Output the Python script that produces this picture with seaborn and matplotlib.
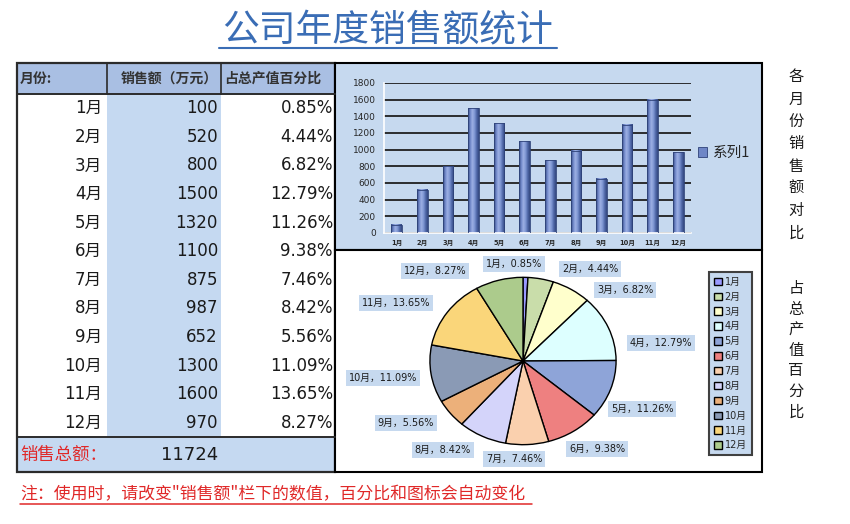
import matplotlib
matplotlib.use("Agg")
import numpy as np
import pandas as pd
import matplotlib.pyplot as plt
import seaborn as sns
from matplotlib.patches import Rectangle, Patch
from matplotlib.colors import LinearSegmentedColormap

# ---------------- data ----------------
months = ["1月", "2月", "3月", "4月", "5月", "6月", "7月", "8月", "9月", "10月", "11月", "12月"]
sales = [100, 520, 800, 1500, 1320, 1100, 875, 987, 652, 1300, 1600, 970]
y_ticks = [0, 200, 400, 600, 800, 1000, 1200, 1400, 1600, 1800]
series_name = "系列1"
title_text = "公司年度销售额统计"
header = ["月份:", "销售额（万元）", "占总产值百分比"]
total_label = "销售总额："
note_text = "注：使用时，请改变\"销售额\"栏下的数值，百分比和图标会自动变化"
side_text_1 = "各月份销售额对比"
side_text_2 = "占总产值百分比"

total = sum(sales)
pcts = [v / total * 100 for v in sales]

# ---------------- style ----------------
pie_colors = ["#9999FF", "#C9DDAA", "#FFFFCC", "#DDFFFF", "#8EA4D8", "#EE8080",
              "#FAD0AE", "#D4D4FA", "#ECB07A", "#8A9AB5", "#FAD67A", "#ACCB8C"]
HEADER_BG = "#A9BFE3"
LIGHT = "#C5D9F1"
PANEL = "#C6D9EF"
LINE = "#2B2B2B"
TITLE_COLOR = "#3A6DB5"
RED = "#E02828"
BAR = "#6E86C6"

label_pos = [(514, 264), (590, 269), (625, 290), (661, 343), (642, 409), (597, 449),
             (514, 459), (443, 450), (406, 423), (383, 378), (396, 303), (435, 271)]

sns.set_style("white")
plt.rcParams['font.family'] = ['DejaVu Sans', 'Noto Sans CJK SC']
CJK = ['Noto Sans CJK SC', 'DejaVu Sans']

W, H = 850, 524
fig = plt.figure(figsize=(8.5, 5.24), dpi=100)
fig.patch.set_facecolor("white")


def px_rect(x0, y0, x1, y1):
    return [x0 / W, 1 - y1 / H, (x1 - x0) / W, (y1 - y0) / H]


bg = fig.add_axes([0, 0, 1, 1])
bg.set_xlim(0, W)
bg.set_ylim(H, 0)
bg.axis('off')

# ---------------- table ----------------
TX0, TX1, TX2, TX3 = 17, 107, 221, 335
TY0, TY1, TY2, TY3 = 63, 94, 437, 472
bg.add_patch(Rectangle((TX0, TY0), TX3 - TX0, TY1 - TY0, fc=HEADER_BG, ec='none'))
bg.add_patch(Rectangle((TX1, TY1), TX2 - TX1, TY2 - TY1, fc=LIGHT, ec='none'))
bg.add_patch(Rectangle((TX0, TY2), TX3 - TX0, TY3 - TY2, fc=LIGHT, ec='none'))
bg.add_patch(Rectangle((TX0, TY0), TX3 - TX0, TY3 - TY0, fc='none', ec=LINE, lw=1.6))
bg.plot([TX0, TX3], [TY1, TY1], color=LINE, lw=1.4)
bg.plot([TX0, TX3], [TY2, TY2], color=LINE, lw=1.4)
for xx in (TX1, TX2):
    bg.plot([xx, xx], [TY0, TY1], color=LINE, lw=1.2)

hy = (TY0 + TY1) / 2
bg.text(TX0 + 3, hy, header[0], ha='left', va='center', fontsize=10, color='#333333',
        family=CJK, fontweight='bold')
bg.text(TX2 - 3, hy, header[1], ha='right', va='center', fontsize=10, color='#333333',
        family=CJK, fontweight='bold')
bg.text(TX2 + 3, hy, header[2], ha='left', va='center', fontsize=10, color='#333333',
        family=CJK, fontweight='bold')

row_h = (TY2 - TY1) / len(months)
for i, (m, v, p) in enumerate(zip(months, sales, pcts)):
    yy = TY1 + row_h * (i + 0.5)
    bg.text(TX1 - 5, yy, m, ha='right', va='center', fontsize=12, color='#1A1A1A')
    bg.text(TX2 - 3, yy, f"{v}", ha='right', va='center', fontsize=12, color='#1A1A1A')
    bg.text(TX3 - 2, yy, f"{p:.2f}%", ha='right', va='center', fontsize=12, color='#1A1A1A')

ty = (TY2 + TY3) / 2
bg.text(TX0 + 3, ty, total_label, ha='left', va='center', fontsize=12.5, color=RED, family=CJK)
bg.text(TX2 - 3, ty, f"{total}", ha='right', va='center', fontsize=13, color='#1A1A1A')

# ---------------- panels ----------------
bg.add_patch(Rectangle((335, 63), 427, 187, fc=PANEL, ec='black', lw=1.5))
bg.add_patch(Rectangle((335, 250), 427, 222, fc='white', ec='black', lw=1.5))

# ---------------- bar chart ----------------
ax = fig.add_axes(px_rect(384, 83, 691, 233))
ax.patch.set_alpha(0)
df = pd.DataFrame({"month": months, "sales": sales})
sns.barplot(data=df, x="month", y="sales", color=BAR, width=0.42, saturation=1, ax=ax)

grad_cmap = LinearSegmentedColormap.from_list(
    "cyl", ["#34487F", "#6F87C8", "#9DB0E4", "#8098D4", "#5068A8", "#34487F"])
grad = np.linspace(0, 1, 64).reshape(1, -1)
for bar in list(ax.patches):
    x0, w, h = bar.get_x(), bar.get_width(), bar.get_height()
    ax.imshow(grad, extent=[x0, x0 + w, 0, h], aspect='auto', cmap=grad_cmap,
              zorder=2, interpolation='bilinear')
    bar.set_facecolor('none')
    bar.set_edgecolor('#2E4278')
    bar.set_linewidth(0.6)
    bar.set_zorder(3)

ax.set_aspect('auto')
ax.set_xlim(-0.5, len(months) - 0.5)
ax.set_ylim(0, 1800)
ax.set_yticks(y_ticks)
ax.set_yticklabels([str(t) for t in y_ticks])
ax.yaxis.grid(True, color='#1F1F1F', lw=1.3)
ax.xaxis.grid(False)
ax.set_axisbelow(True)
for s in ('top', 'right'):
    ax.spines[s].set_visible(False)
for s in ('left', 'bottom'):
    ax.spines[s].set_color('white')
    ax.spines[s].set_linewidth(1.2)
ax.tick_params(axis='y', labelsize=6.5, colors='white', labelcolor='#262626', length=3, pad=3)
ax.tick_params(axis='x', labelsize=4.8, length=0, pad=5, labelcolor='#262626')
for lab in ax.get_xticklabels():
    lab.set_fontweight('bold')
ax.set_xticks(np.arange(-0.5, len(months), 1), minor=True)
ax.tick_params(axis='x', which='minor', length=3, direction='in', color='white')
ax.set_xlabel("")
ax.set_ylabel("")

fig.legend(handles=[Patch(facecolor=BAR, edgecolor='#2E4278', lw=0.6)], labels=[series_name],
           loc='center left', bbox_to_anchor=(698 / W, 1 - 153 / H), bbox_transform=fig.transFigure,
           frameon=False, handlelength=0.65, handleheight=0.65,
           handletextpad=0.35, borderpad=0, borderaxespad=0, prop={'family': CJK, 'size': 10.5})

# ---------------- pie chart ----------------
pax = fig.add_axes(px_rect(429, 276.5, 617, 445.5))
wedges, _ = pax.pie(sales, colors=pie_colors, startangle=90, counterclock=False,
                    wedgeprops=dict(edgecolor='black', linewidth=1))
pax.set_aspect('auto')
pax.set_xlim(-1.01, 1.01)
pax.set_ylim(-1.01, 1.01)

leg = fig.legend(wedges, months, loc='upper left', bbox_to_anchor=(709 / W, 1 - 272 / H),
                 bbox_transform=fig.transFigure, fontsize=7, frameon=True, fancybox=False,
                 handlelength=0.8, handleheight=0.8, handletextpad=0.3, labelspacing=0.5,
                 borderpad=0.5, borderaxespad=0)
leg.get_frame().set_facecolor(PANEL)
leg.get_frame().set_edgecolor('#404040')
leg.get_frame().set_linewidth(1.5)
leg.get_frame().set_alpha(1)

# ---------------- overlay texts ----------------
ov = fig.add_axes([0, 0, 1, 1], zorder=10)
ov.set_xlim(0, W)
ov.set_ylim(H, 0)
ov.axis('off')
ov.patch.set_alpha(0)

for (lx, ly), m, p in zip(label_pos, months, pcts):
    ov.text(lx, ly, f"{m}，{p:.2f}%", ha='center', va='center', fontsize=7, color='#1A1A1A',
            bbox=dict(boxstyle='square,pad=0.3', fc=PANEL, ec='none'))

ov.text(388, 31, title_text, ha='center', va='center', fontsize=26.5, color=TITLE_COLOR, family=CJK)
ov.plot([219, 557], [48, 48], color=TITLE_COLOR, lw=1.5)

ov.text(20, 494, note_text, ha='left', va='center', fontsize=12.2, color=RED, family=CJK)
ov.plot([20, 532], [504, 504], color=RED, lw=1.1)

for i, ch in enumerate(side_text_1):
    ov.text(796, 77 + i * 22.3, ch, ha='center', va='center', fontsize=11, color='#1A1A1A', family=CJK)
for i, ch in enumerate(side_text_2):
    ov.text(796, 289 + i * 20.5, ch, ha='center', va='center', fontsize=11, color='#1A1A1A', family=CJK)

fig.savefig("out.png", dpi=100, facecolor='white')
